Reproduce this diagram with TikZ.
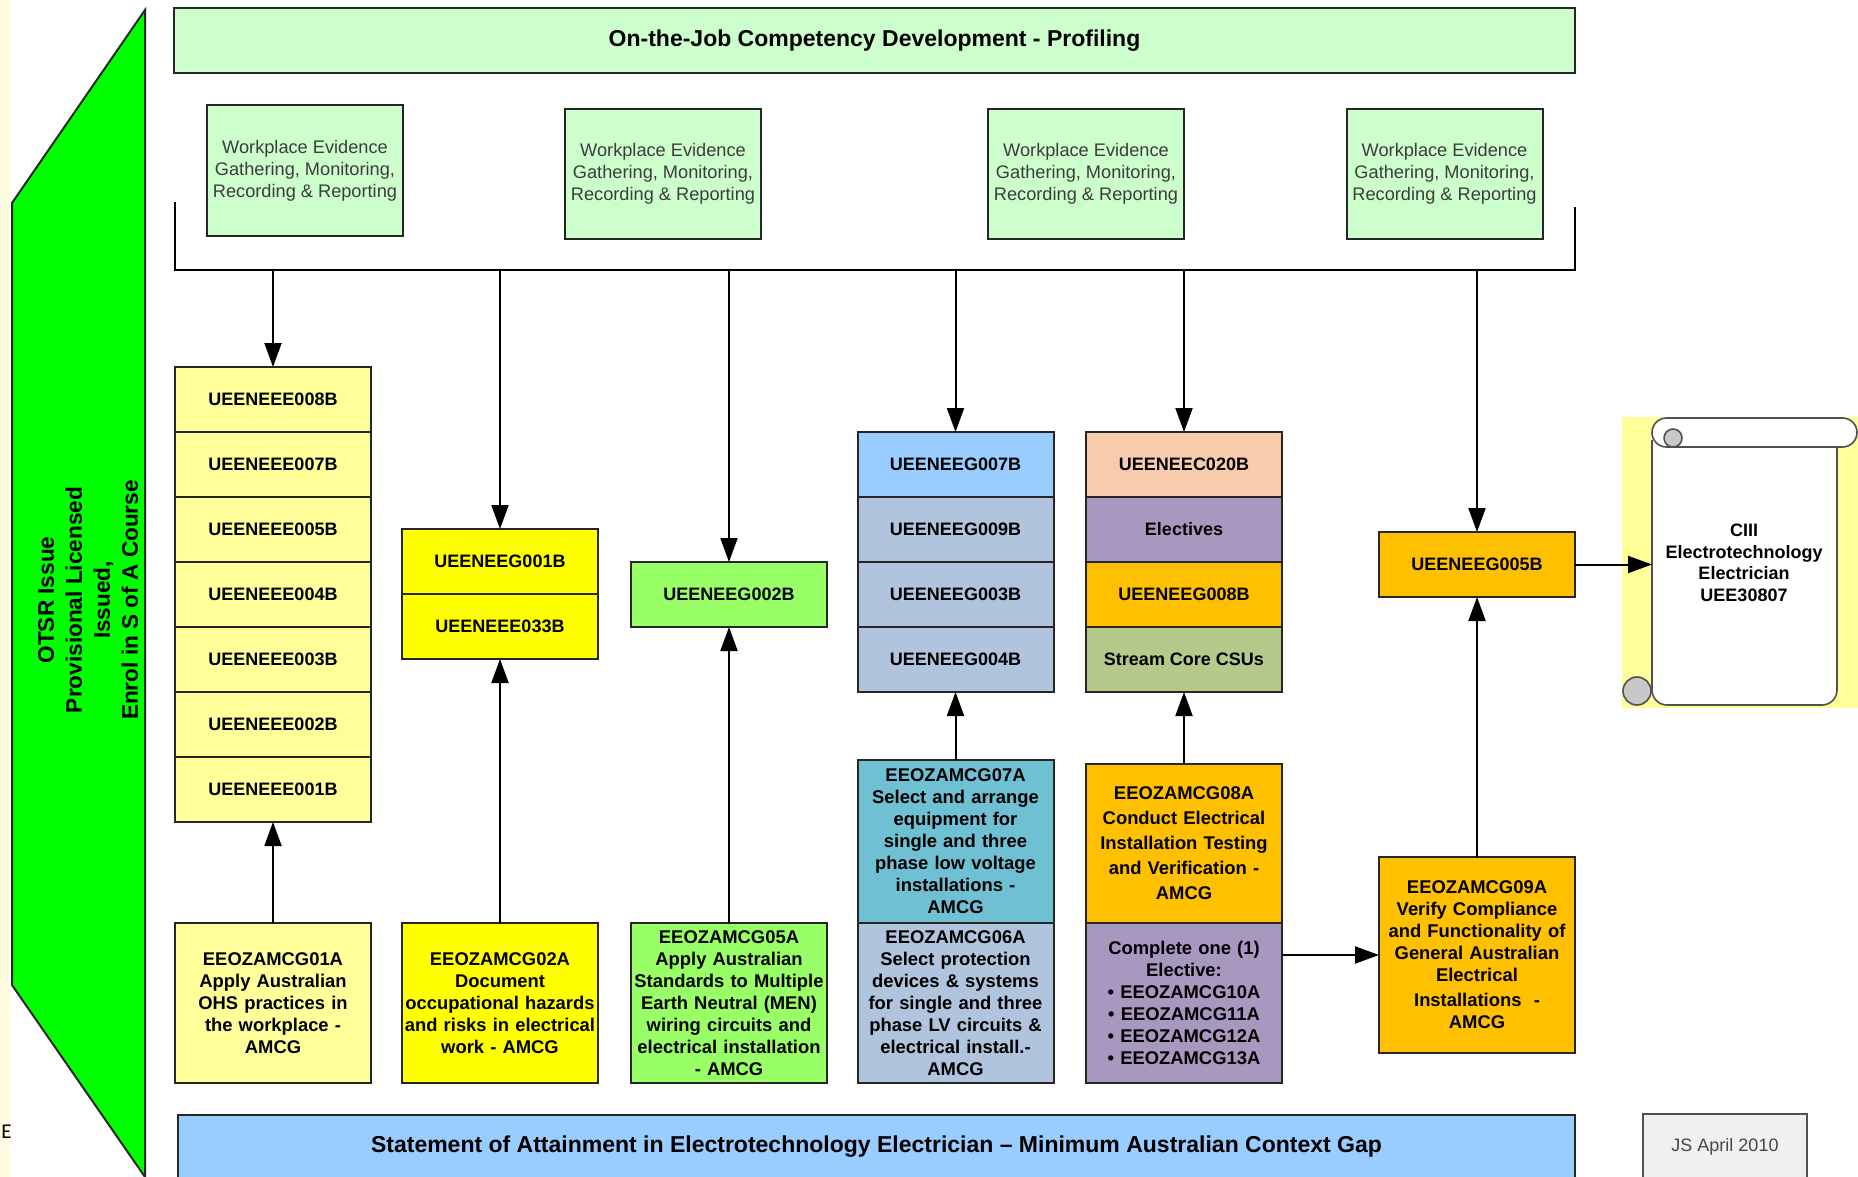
\documentclass[tikz,border=0pt]{standalone}
\usepackage{fontspec}
\setmainfont{Liberation Sans}
\newfontfamily\calfont{Carlito}
\usepackage{xcolor}
\definecolor{edge}{HTML}{262626}
\definecolor{mint}{HTML}{CCFFCC}
\definecolor{paleyellow}{HTML}{FFFF99}
\definecolor{lemon}{HTML}{FFFF00}
\definecolor{leaf}{HTML}{99FF66}
\definecolor{sky}{HTML}{99CCFF}
\definecolor{steel}{HTML}{B0C4DE}
\definecolor{aqua}{HTML}{70C0D4}
\definecolor{peach}{HTML}{F8CBAD}
\definecolor{lilac}{HTML}{A898C0}
\definecolor{amber}{HTML}{FFC000}
\definecolor{sage}{HTML}{B4C98A}
\definecolor{otsr}{HTML}{00FF00}
\definecolor{strip}{HTML}{FFFDE1}
\definecolor{curl}{HTML}{C8C8C8}
\definecolor{jsgray}{HTML}{F0F0F0}
\usepackage{tikz}
\usetikzlibrary{positioning,arrows.meta}
\tikzset{
    unit/.style = {
      draw=edge,
      line width=1pt,
      outer sep=0pt,
      inner sep=0pt,
      minimum width=98pt,
      minimum height=32.5pt,
      font=\bfseries\fontsize{9}{11}\selectfont
    },
    amcg/.style = {
      draw=edge,
      line width=1pt,
      outer sep=0pt,
      inner sep=1pt,
      text width=96pt,
      align=center,
      font=\bfseries\fontsize{9.2}{11}\selectfont
    },
    evidence/.style = {
      draw=edge,
      line width=1pt,
      fill=mint,
      minimum width=98pt,
      minimum height=65pt,
      inner sep=0pt,
      align=center,
      text=edge!90,
      font=\fontsize{9.1}{11}\selectfont
    },
    banner/.style = {
      draw=edge,
      line width=1pt,
      minimum height=32.5pt,
      font=\bfseries\fontsize{11.5}{13}\selectfont
    },
    flow/.style = {
      -{Triangle[length=12pt,width=8.5pt]},
      line width=1pt
    },
    roll/.style = {
      draw=edge!80,
      line width=0.8pt
    }
}

\begin{document}
\begin{tikzpicture}[x=0.5pt, y=-0.5pt]
      \useasboundingbox (0,0) rectangle (1858,1177);
      \fill[white] (0,0) rectangle (1858,1177);
      \fill[strip] (0,0) rectangle (10,1177);
      \node[font=\calfont\fontsize{10.5}{12}\selectfont, anchor=west, inner sep=0pt] (X) at (1,1132) {E};

      % left band
      \draw[fill=otsr, draw=edge, line width=1pt] (145,10) -- (12,203) -- (12,985) -- (145,1177) -- cycle;
      \node[rotate=90, align=center, font=\bfseries\fontsize{11.3}{14}\selectfont] (O) at (88,600)
        {OTSR Issue\\Provisional Licensed\\Issued,\\Enrol in S of A Course};

      \node[banner, fill=mint, minimum width=700.5pt] (T) at (874.5,40.5) {On-the-Job Competency Development - Profiling};

      \node[evidence] (W1) at (305,170.5) {Workplace Evidence\\Gathering, Monitoring,\\Recording \& Reporting};
      \node[evidence] (W2) at (663,174) {Workplace Evidence\\Gathering, Monitoring,\\Recording \& Reporting};
      \node[evidence] (W3) at (1086,174) {Workplace Evidence\\Gathering, Monitoring,\\Recording \& Reporting};
      \node[evidence] (W4) at (1444.5,174) {Workplace Evidence\\Gathering, Monitoring,\\Recording \& Reporting};

      \coordinate (BL) at (175,270);
      \coordinate (BR) at (1575,270);
      \draw[line width=1pt] (175,202) -- (BL) -- (BR) -- (1575,207);

      % units
      \node[unit, fill=paleyellow] (E8) at (273,399.5) {UEENEEE008B};
      \node[unit, fill=paleyellow, below=0pt of E8] (E7) {UEENEEE007B};
      \node[unit, fill=paleyellow, below=0pt of E7] (E5) {UEENEEE005B};
      \node[unit, fill=paleyellow, below=0pt of E5] (E4) {UEENEEE004B};
      \node[unit, fill=paleyellow, below=0pt of E4] (E3) {UEENEEE003B};
      \node[unit, fill=paleyellow, below=0pt of E3] (E2) {UEENEEE002B};
      \node[unit, fill=paleyellow, below=0pt of E2] (E1) {UEENEEE001B};

      \node[unit, fill=lemon] (G1) at (500,561.5) {UEENEEG001B};
      \node[unit, fill=lemon, below=0pt of G1] (E33) {UEENEEE033B};

      \node[unit, fill=leaf] (G2) at (729,594.5) {UEENEEG002B};

      \node[unit, fill=sky] (G7) at (955.5,464.5) {UEENEEG007B};
      \node[unit, fill=steel, below=0pt of G7] (G9) {UEENEEG009B};
      \node[unit, fill=steel, below=0pt of G9] (G3) {UEENEEG003B};
      \node[unit, fill=steel, below=0pt of G3] (G4) {UEENEEG004B};

      \node[unit, fill=peach] (C20) at (1184,464.5) {UEENEEC020B};
      \node[unit, fill=lilac, below=0pt of C20] (EL) {Electives};
      \node[unit, fill=amber, below=0pt of EL] (G8) {UEENEEG008B};
      \node[unit, fill=sage, below=0pt of G8] (SC) {Stream Core CSUs};

      \node[unit, fill=amber] (G5) at (1477,564.5) {UEENEEG005B};

      % AMCG units
      \node[amcg, fill=paleyellow, minimum height=80pt] (M1) at (273,1003)
        {EEOZAMCG01A\\Apply Australian\\OHS practices in\\the workplace -\\AMCG};
      \node[amcg, fill=lemon, minimum height=80pt] (M2) at (500,1003)
        {EEOZAMCG02A\\Document\\occupational hazards\\and risks in electrical\\work - AMCG};
      \node[amcg, fill=leaf, minimum height=80pt] (M5) at (729,1003)
        {EEOZAMCG05A\\Apply Australian\\Standards to Multiple\\Earth Neutral (MEN)\\wiring circuits and\\electrical installation\\- AMCG};
      \node[amcg, fill=aqua, minimum height=81.5pt] (M7) at (955.5,841.5)
        {EEOZAMCG07A\\Select and arrange\\equipment for\\single and three\\phase low voltage\\installations -\\AMCG};
      \node[amcg, fill=steel, minimum height=80pt] (M6) at (955.5,1003)
        {EEOZAMCG06A\\Select protection\\devices \& systems\\for single and three\\phase LV circuits \&\\electrical install.-\\AMCG};
      \node[amcg, fill=amber, minimum height=79.5pt, font=\bfseries\fontsize{9.2}{12.5}\selectfont] (M8) at (1184,843.5)
        {EEOZAMCG08A\\Conduct Electrical\\Installation Testing\\and Verification -\\AMCG};
      \node[amcg, fill=lilac, minimum height=80pt] (MX) at (1184,1003)
        {Complete one (1)\\Elective:\\\textbullet\ EEOZAMCG10A\\\textbullet\ EEOZAMCG11A\\\textbullet\ EEOZAMCG12A\\\textbullet\ EEOZAMCG13A};
      \node[amcg, fill=amber, minimum height=98pt] (M9) at (1477,955)
        {EEOZAMCG09A\\Verify Compliance\\and Functionality of\\General Australian\\Electrical\\[1.5pt]Installations\ \ -\\AMCG};

      \node[banner, fill=sky, minimum width=698.5pt] (S) at (876.5,1147)
        {Statement of Attainment in Electrotechnology Electrician -- Minimum Australian Context Gap};
      \node[draw=edge!80, line width=1pt, fill=jsgray, minimum width=82pt, minimum height=32.5pt,
        font=\fontsize{9}{11}\selectfont, text=edge!85] (J) at (1725,1146.5) {JS April 2010};

      % certificate scroll
      \fill[paleyellow] (1622,417) rectangle (1858,708);
      \draw[roll, fill=white, rounded corners=7.5pt] (1652,440) -- (1652,705) -- (1837,705) -- (1837,440);
      \draw[roll, fill=curl] (1637,691) circle[radius=7pt];
      \draw[roll, fill=white, rounded corners=7.25pt] (1652,418) rectangle (1857,447);
      \draw[roll, fill=curl] (1673,438) circle[radius=4.5pt];
      \node[align=center, font=\bfseries\fontsize{9}{10.8}\selectfont] (Q) at (1744,563)
        {CIII\\Electrotechnology\\Electrician\\UEE30807};
      \coordinate (QIN) at (1652,564.5);

      % connectors
      \draw[flow] (E8.north |- BL) -- (E8.north);
      \draw[flow] (G1.north |- BL) -- (G1.north);
      \draw[flow] (G2.north |- BL) -- (G2.north);
      \draw[flow] (G7.north |- BL) -- (G7.north);
      \draw[flow] (C20.north |- BL) -- (C20.north);
      \draw[flow] (G5.north |- BL) -- (G5.north);

      \draw[flow] (M1) -- (E1);
      \draw[flow] (M2) -- (E33);
      \draw[flow] (M5) -- (G2);
      \draw[flow] (M7) -- (G4);
      \draw[flow] (M8) -- (SC);
      \draw[flow] (M9) -- (G5);
      \draw[flow] (MX.east |- M9) -- (M9.west);
      \draw[flow] (G5) -- (QIN);
    \end{tikzpicture}
\end{document}
